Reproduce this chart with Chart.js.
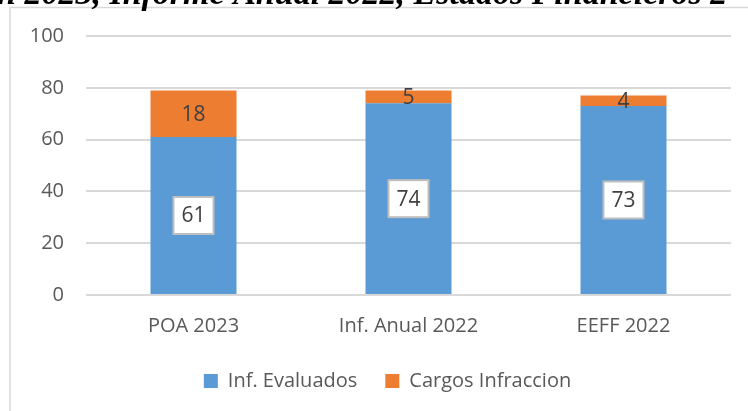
<!DOCTYPE html>
<html>
<head>
<meta charset="utf-8">
<script src="https://cdn.jsdelivr.net/npm/chart.js@4.4.0/dist/chart.umd.min.js"></script>
<style>
  html, body { margin: 0; padding: 0; background: #fff; }
  #wrap { position: relative; width: 748px; height: 411px; }
</style>
</head>
<body>
<div id="wrap"><canvas id="grafico" width="748" height="411"></canvas></div>
<script>
// datos del grafico
const categorias = ['POA 2023', 'Inf. Anual 2022', 'EEFF 2022'];
const infEvaluados = [61, 74, 73];
const cargosInfraccion = [18, 5, 4];
const ticksY = [0, 20, 40, 60, 80, 100];
const tituloCortado = 'ón 2023, Informe Anual 2022, Estados Financieros 2';

const fuente = "'Open Sans', sans-serif";

// marco y titulo cortado arriba
const marcoPlugin = {
    id: 'marco',
    beforeDraw(chart) {
        const ctx = chart.ctx;
        ctx.save();
        ctx.fillStyle = '#ffffff';
        ctx.fillRect(0, 0, chart.width, chart.height);
        ctx.strokeStyle = '#d9d9d9';
        ctx.lineWidth = 1.5;
        ctx.beginPath();
        ctx.moveTo(10, chart.height + 2);
        ctx.lineTo(10, 7.5);
        ctx.lineTo(chart.width + 2, 7.5);
        ctx.stroke();
        ctx.fillStyle = '#000000';
        ctx.font = "bold italic 34px 'Liberation Serif'";
        ctx.textBaseline = 'alphabetic';
        ctx.textAlign = 'left';
        ctx.fillText(tituloCortado, -20, 4);
        ctx.restore();
    },
    afterLayout(chart) {
        // la leyenda del original esta un poco a la derecha
        chart.legend.left += 22;
        chart.legend.right += 22;
    }
};

// etiquetas de datos (como en excel)
const etiquetasPlugin = {
    id: 'etiquetas',
    afterDatasetsDraw(chart) {
        const ctx = chart.ctx;
        ctx.save();
        ctx.font = '21px ' + fuente;
        ctx.textAlign = 'center';
        ctx.textBaseline = 'middle';
        chart.data.datasets.forEach((ds, i) => {
            const meta = chart.getDatasetMeta(i);
            meta.data.forEach((bar, j) => {
                const props = bar.getProps(['x', 'y', 'base'], true);
                const cy = (props.y + props.base) / 2;
                const txt = String(ds.data[j]);
                if (i === 0) {
                    const w = 40, h = 37;
                    ctx.fillStyle = '#ffffff';
                    ctx.fillRect(props.x - w / 2, cy - h / 2, w, h);
                    ctx.strokeStyle = '#bfbfbf';
                    ctx.lineWidth = 2;
                    ctx.strokeRect(props.x - w / 2, cy - h / 2, w, h);
                }
                ctx.fillStyle = '#404040';
                ctx.fillText(txt, props.x, cy + 1);
            });
        });
        ctx.restore();
    }
};

new Chart(document.getElementById('grafico'), {
    type: 'bar',
    data: {
        labels: categorias,
        datasets: [{
            label: 'Inf. Evaluados',
            data: infEvaluados,
            backgroundColor: '#5b9bd5',
            categoryPercentage: 1,
            barPercentage: 0.4
        }, {
            label: 'Cargos Infraccion',
            data: cargosInfraccion,
            backgroundColor: '#ed7d31',
            categoryPercentage: 1,
            barPercentage: 0.4
        }]
    },
    options: {
        responsive: false,
        animation: false,
        layout: {
            padding: { top: 36, right: 17, left: 0, bottom: 10 }
        },
        plugins: {
            title: { display: false },
            tooltip: { enabled: false },
            legend: {
                position: 'bottom',
                labels: {
                    boxWidth: 14,
                    boxHeight: 14,
                    padding: 28,
                    color: '#595959',
                    font: { family: fuente, size: 20 }
                }
            }
        },
        scales: {
            x: {
                stacked: true,
                grid: { display: false },
                border: { display: false },
                ticks: {
                    color: '#595959',
                    padding: 11,
                    font: { family: fuente, size: 20 }
                },
                afterFit(scale) { scale.height = 48; }
            },
            y: {
                stacked: true,
                min: 0,
                max: 100,
                afterBuildTicks(scale) {
                    scale.ticks = ticksY.map(v => ({ value: v }));
                },
                grid: { color: '#d9d9d9', lineWidth: 2, drawTicks: false },
                border: { display: false },
                ticks: {
                    color: '#595959',
                    padding: 22,
                    font: { family: fuente, size: 20 }
                },
                afterFit(scale) { scale.width = 86; }
            }
        }
    },
    plugins: [marcoPlugin, etiquetasPlugin]
});
</script>
</body>
</html>
